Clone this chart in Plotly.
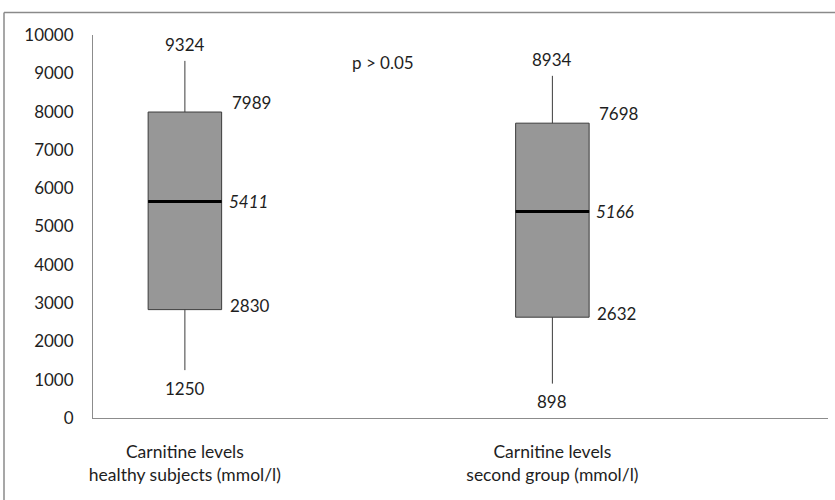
import plotly.graph_objects as go

# ---- data ----
categories = ["Carnitine levels<br>healthy subjects (mmol/l)",
              "Carnitine levels<br>second group (mmol/l)"]
placeholders = [" ", "  "]
maxima = [9324, 8934]
q3 = [7989, 7698]
medians_drawn = [5650, 5390]      # position of the median line as drawn
median_labels = ["5411", "5166"]  # value printed next to the median line
q1 = [2830, 2632]
minima = [1250, 898]
y_ticks = list(range(0, 10001, 1000))
y_tick_labels = [str(v) for v in y_ticks]
p_text = "p > 0.05"

FONT = "Lato, Carlito, Calibri, sans-serif"
TXT = "#1e1e1e"
AX = "#8c8c8c"

W, H = 835, 500
ML, MR, MT, MB = 93, 7, 35, 82

cat_order = [categories[0], placeholders[0], categories[1], placeholders[1]]

fig = go.Figure()

# main boxes
fig.add_trace(go.Box(
    x=categories, q1=q1, median=medians_drawn, q3=q3,
    lowerfence=minima, upperfence=maxima,
    width=0.4, whiskerwidth=0,
    fillcolor="#979797",
    line=dict(color="#3c3c3c", width=1),
    boxpoints=False, hoverinfo="skip", showlegend=False,
))
# thick median line (degenerate box)
fig.add_trace(go.Box(
    x=categories, q1=medians_drawn, median=medians_drawn, q3=medians_drawn,
    lowerfence=medians_drawn, upperfence=medians_drawn,
    width=0.4, whiskerwidth=0,
    fillcolor="rgba(0,0,0,0)",
    line=dict(color="#000000", width=3),
    boxpoints=False, hoverinfo="skip", showlegend=False,
))

ann = []
half_box_px = 0.4 / 2 * (W - ML - MR) / len(cat_order)
for i, c in enumerate(categories):
    ann.append(dict(x=c, y=maxima[i], text=str(maxima[i]), showarrow=False,
                    yanchor="middle", yshift=16))
    ann.append(dict(x=c, y=minima[i], text=str(minima[i]), showarrow=False,
                    yanchor="middle", yshift=-18))
    ann.append(dict(x=c, y=q3[i], text=str(q3[i]), showarrow=False,
                    xanchor="left", xshift=half_box_px + 8,
                    yanchor="middle", yshift=10))
    ann.append(dict(x=c, y=q1[i], text=str(q1[i]), showarrow=False,
                    xanchor="left", xshift=half_box_px + 6,
                    yanchor="middle", yshift=4))
    ann.append(dict(x=c, y=medians_drawn[i], text="<i>" + median_labels[i] + "</i>",
                    showarrow=False, xanchor="left", xshift=half_box_px + 5,
                    yanchor="middle", yshift=0))
ann.append(dict(xref="paper", yref="paper", x=(350 - ML) / (W - ML - MR),
                y=(H - MB - 62) / (H - MT - MB), text=p_text, showarrow=False,
                xanchor="left", yanchor="middle"))

# outer frame (top and left edges)
py = lambda ypx: (H - MB - ypx) / (H - MT - MB)
px = lambda xpx: (xpx - ML) / (W - ML - MR)
shapes = [
    dict(type="line", xref="paper", yref="paper", x0=px(4), x1=px(W + 2),
         y0=py(12.5), y1=py(12.5), line=dict(color="#8a8a8a", width=1.5)),
    dict(type="line", xref="paper", yref="paper", x0=px(4), x1=px(4),
         y0=py(12.5), y1=py(H + 2), line=dict(color="#8a8a8a", width=1.5)),
]

fig.update_layout(
    width=W, height=H,
    margin=dict(l=ML, r=MR, t=MT, b=MB, autoexpand=False),
    paper_bgcolor="white", plot_bgcolor="white",
    font=dict(family=FONT, size=17, color=TXT),
    boxmode="overlay",
    annotations=ann,
    shapes=shapes,
    xaxis=dict(type="category", categoryorder="array", categoryarray=cat_order,
               range=[-0.5, 3.5], showline=True, linecolor=AX, linewidth=1,
               showgrid=False, zeroline=False, ticks="", ticklabelstandoff=18,
               automargin=False, tickfont=dict(size=17.5, color=TXT)),
    yaxis=dict(range=[0, 10000], tickvals=y_ticks, ticktext=y_tick_labels,
               showline=True, linecolor=AX, automargin=False,
               linewidth=1, showgrid=False, zeroline=False, ticks="",
               ticklabelstandoff=15, tickfont=dict(size=17, color=TXT)),
)

fig.write_html("out.html",
               config={"displayModeBar": False, "staticPlot": True},
               post_script="document.body.style.margin='0px';"
                           "document.body.style.overflow='hidden';")
